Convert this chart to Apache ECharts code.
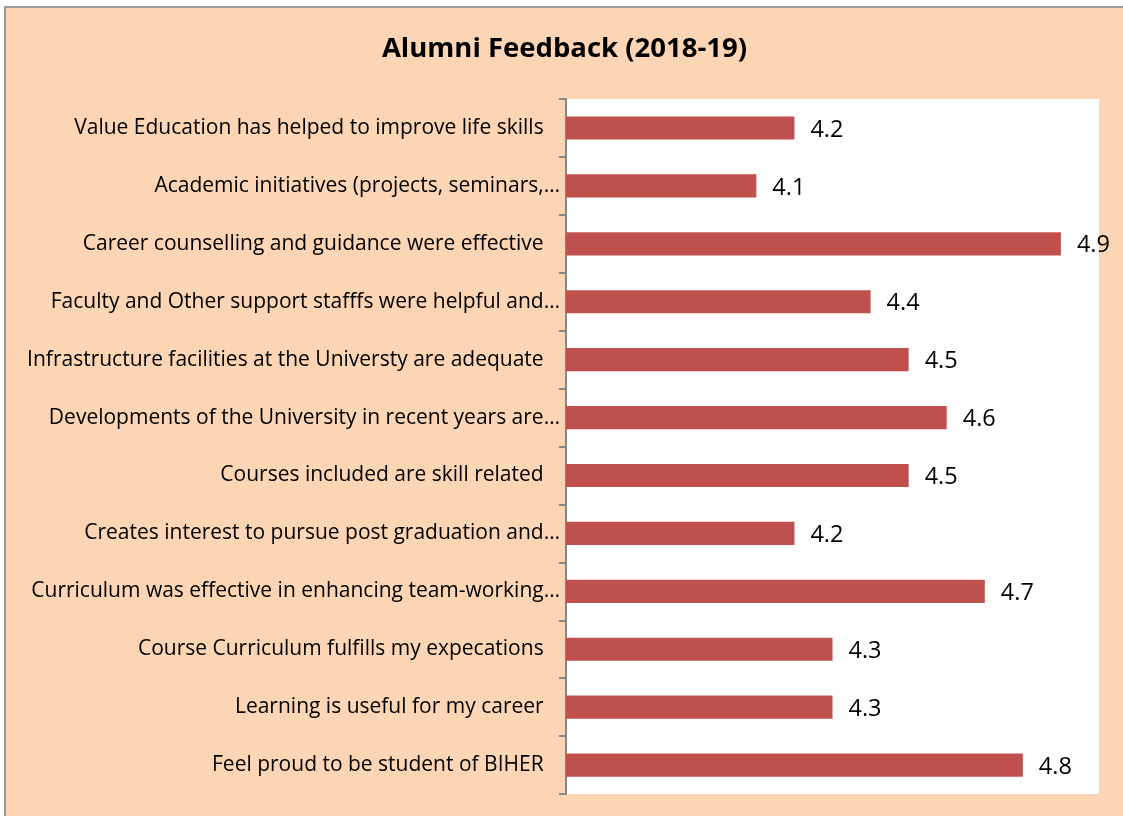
<!DOCTYPE html>
<html>
<head>
<meta charset="utf-8">
<title>Alumni Feedback (2018-19)</title>
<script src="https://cdn.jsdelivr.net/npm/echarts@6/dist/echarts.min.js"></script>
<style>
  body { margin: 0; background: #fff; }
  #main {
    position: absolute;
    left: 4px;
    top: 6px;
    width: 1119px;
    height: 810px;
    box-sizing: border-box;
    border-left: 2px solid #9a9a9a;
    border-top: 2px solid #9a9a9a;
  }
</style>
</head>
<body>
<div id="main"></div>
<script>
// questions, top to bottom as in the sheet
var questions = [
  "Value Education has helped to improve life skills",
  "Academic initiatives (projects, seminars,\u2026",
  "Career counselling and guidance were effective",
  "Faculty and Other support stafffs were helpful and\u2026",
  "Infrastructure facilities at the Universty are adequate",
  "Developments of the University in recent years are\u2026",
  "Courses included are skill related",
  "Creates interest to pursue post graduation and\u2026",
  "Curriculum was effective in enhancing team-working\u2026",
  "Course Curriculum fulfills my expecations",
  "Learning is useful for my career",
  "Feel proud to be student of BIHER"
];
var scores = [4.2, 4.1, 4.9, 4.4, 4.5, 4.6, 4.5, 4.2, 4.7, 4.3, 4.3, 4.8];
var axisMin = 3.6,
  axisMax = 5.0;

var myChart = echarts.init(document.getElementById("main"));
var option = {
  backgroundColor: "#FCD5B5",
  animation: false,
  title: {
    text: "Alumni Feedback (2018-19)",
    left: "center",
    top: 22,
    textStyle: {
      fontFamily: "Open Sans",
      fontWeight: "bold",
      fontSize: 27.5,
      color: "#000"
    }
  },
  grid: {
    left: 560,
    right: 24,
    top: 91,
    bottom: 22,
    show: true,
    backgroundColor: "#fff",
    borderWidth: 0
  },
  xAxis: {
    type: "value",
    min: axisMin,
    max: axisMax,
    show: false
  },
  yAxis: {
    type: "category",
    inverse: true,
    data: questions,
    axisLine: {
      show: true,
      lineStyle: { color: "#868686", width: 2 }
    },
    axisTick: {
      show: true,
      length: 7,
      lineStyle: { color: "#868686", width: 2 }
    },
    axisLabel: {
      margin: 6,
      padding: [4, 0, 0, 0],
      fontFamily: "Open Sans",
      fontSize: 21,
      color: "#000",
      formatter: function (value) {
        // the untruncated labels had trailing blanks in the source
        return value.slice(-1) === "\u2026" ? value : value + "   ";
      }
    }
  },
  series: [{
    type: "bar",
    data: scores,
    barWidth: "40%",
    itemStyle: { color: "#C0504D" },
    label: {
      show: true,
      position: "right",
      distance: 16,
      offset: [0, 2],
      fontFamily: "Open Sans",
      fontSize: 23.5,
      color: "#000"
    }
  }]
};
myChart.setOption(option);
</script>
</body>
</html>
